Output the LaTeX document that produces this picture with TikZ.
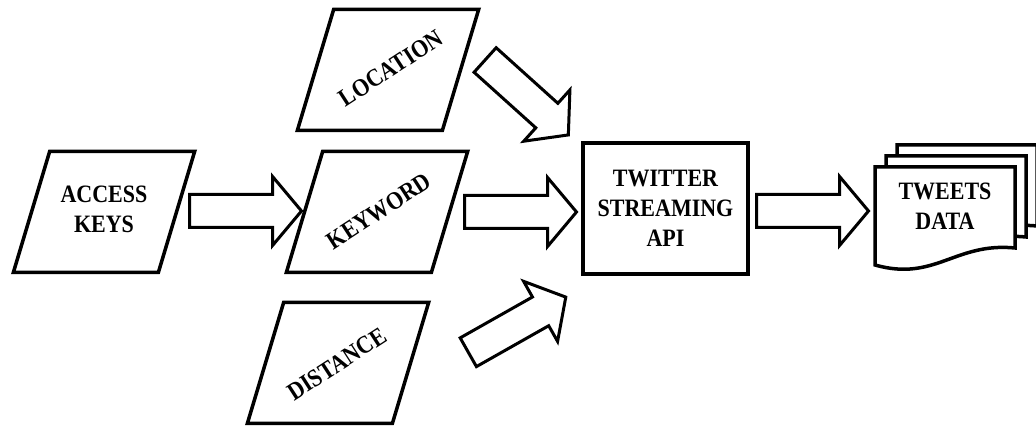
\documentclass[tikz,border=0pt]{standalone}
\usepackage{fontspec}
\setmainfont{Liberation Serif}[FakeStretch=0.88]
\usetikzlibrary{shapes.arrows}

\begin{document}
\begin{tikzpicture}[x=1pt,y=1pt,line width=3.5pt,font=\bfseries\fontsize{25}{30}\selectfont,
	inputbox/.style={draw,xslant=0.3,minimum width=145pt,minimum height=121pt,inner sep=0pt},
	bigarrow/.style={draw,single arrow,anchor=tail,line width=3pt,inner xsep=0pt,inner ysep=15pt,
	  single arrow head extend=18pt,single arrow tip angle=100,minimum height=112pt},
	txt/.style={align=center,inner sep=0pt}]
	\useasboundingbox (0,0) rectangle (1036,427);

	%input boxes
	\node[inputbox] (access) at (104,215) {};
	\node[inputbox] (keyword) at (377,215) {};
	\node[inputbox] (location) at (388,357) {};
	\node[inputbox] (distance) at (338,64) {};

	%input labels
	\node[txt] (accesstxt) at (104,218) {ACCESS\\KEYS};
	\node[txt,rotate=33] (keywordtxt) at (379,216) {KEYWORD};
	\node[txt,rotate=33] (locationtxt) at (391,359) {LOCATION};
	\node[txt,rotate=33] (distancetxt) at (337,63) {DISTANCE};

	%streaming api
	\node[draw,txt,minimum width=165pt,minimum height=131pt] (api) at (665.5,218.5)
	  {TWITTER\\STREAMING\\API};

	%tweets data pages
	\foreach \d in {22,11,0}
	  \draw[fill=white] (875+\d,260+\d) -- (1015+\d,260+\d) -- (1015+\d,179+\d)
	    .. controls (955+\d,185+\d) and (935+\d,145+\d) .. (875+\d,162+\d) -- cycle;
	\node[txt] (tweets) at (945,221) {TWEETS\\DATA};

	%arrows (placed by their tails)
	\node[bigarrow] (accessarrow) at (188,216) {}; %access -> keyword
	\node[bigarrow] (keywordarrow) at (463,215) {}; %keyword -> api
	\node[bigarrow] (apiarrow) at (755,216) {}; %api -> tweets
	\node[bigarrow,rotate=-42] (locationarrow) at (484,368) {}; %location -> api
	\node[bigarrow,rotate=29.5] (distancearrow) at (467,74) {}; %distance -> api
\end{tikzpicture}
\end{document}
